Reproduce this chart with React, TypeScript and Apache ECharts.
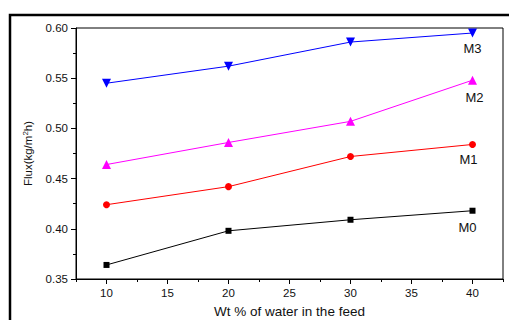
import React, { useEffect, useRef } from "react";
import * as echarts from "echarts";

const xValues = [10, 20, 30, 40];
const m0 = [0.364, 0.398, 0.409, 0.418];
const m1 = [0.424, 0.442, 0.472, 0.484];
const m2 = [0.464, 0.486, 0.507, 0.548];
const m3 = [0.545, 0.562, 0.586, 0.595];
const seriesNames = ["M0", "M1", "M2", "M3"];
const xMajorTicks = [10, 15, 20, 25, 30, 35, 40];
const xMinorTicks = [7.5, 12.5, 17.5, 22.5, 27.5, 32.5, 37.5, 42.5];

const FONT = "Liberation Sans, Arial, sans-serif";

export default function App() {
  const ref = useRef<HTMLDivElement>(null);
  useEffect(() => {
    if (!ref.current) return;
    const chart = echarts.init(ref.current, null, { renderer: "svg" });
    const mk = (
      name: string,
      vals: number[],
      color: string,
      symbol: string,
      size: number,
      labelOffset: [number, number]
    ) => ({
      name,
      type: "line",
      xAxisIndex: 0,
      yAxisIndex: 0,
      symbol,
      symbolSize: size,
      lineStyle: { color, width: 1 },
      itemStyle: { color },
      data: vals.map((v, i) => {
        const d: any = { value: [xValues[i], v] };
        if (i === vals.length - 1) {
          d.label = {
            show: true,
            formatter: name,
            position: "bottom",
            offset: labelOffset,
            color: "#111",
            fontSize: 13,
            fontFamily: FONT,
          };
        }
        return d;
      }),
    });
    chart.setOption({
      animation: false,
      backgroundColor: "#fff",
      textStyle: { fontFamily: FONT },
      grid: {
        left: 76,
        top: 28,
        right: 6,
        bottom: 41,
        show: true,
        borderColor: "#000",
        borderWidth: 1,
        containLabel: false,
        outerBoundsMode: "none",
      },
      graphic: [
        {
          type: "rect",
          shape: { x: 10, y: 15, width: 700, height: 500 },
          style: { fill: "none", stroke: "#000", lineWidth: 2.5 },
          silent: true,
        },
      ],
      xAxis: [
        {
          type: "value",
          min: 7.5,
          max: 42.5,
          position: "bottom",
          splitLine: { show: false },
          axisLine: { show: true, lineStyle: { color: "#000", width: 1 } },
          axisTick: {
            show: true,
            inside: false,
            length: 5,
            customValues: xMajorTicks,
            lineStyle: { color: "#000" },
          },
          axisLabel: {
            customValues: xMajorTicks,
            color: "#111",
            fontSize: 11.5,
            fontFamily: FONT,
            margin: 8,
          },
          name: "Wt % of water in the feed",
          nameLocation: "middle",
          nameGap: 25,
          nameTextStyle: { color: "#111", fontSize: 13.5, fontFamily: FONT },
        },
        {
          type: "value",
          min: 7.5,
          max: 42.5,
          position: "bottom",
          splitLine: { show: false },
          axisLine: { show: false },
          axisTick: {
            show: true,
            inside: false,
            length: 3,
            customValues: xMinorTicks,
            lineStyle: { color: "#000" },
          },
          axisLabel: { show: false },
        },
      ],
      yAxis: {
        type: "value",
        min: 0.35,
        max: 0.6,
        interval: 0.05,
        splitLine: { show: false },
        axisLine: { show: true, lineStyle: { color: "#000", width: 1 } },
        axisTick: { show: true, inside: false, length: 5, lineStyle: { color: "#000" } },
        minorTick: { show: true, splitNumber: 2, length: 3, lineStyle: { color: "#000" } },
        axisLabel: {
          color: "#111",
          fontSize: 11.5,
          fontFamily: FONT,
          margin: 8,
          formatter: (v: number) => v.toFixed(2),
        },
        name: "{a|Flux(kg/m}{s|2}{a|h)}",
        nameLocation: "middle",
        nameGap: 41,
        nameTextStyle: {
          rich: {
            a: { color: "#111", fontSize: 11.5, fontFamily: FONT },
            s: { color: "#111", fontSize: 8, fontFamily: FONT, verticalAlign: "top", padding: [0, 0, 6, 0] },
          },
        },
      },
      series: [
        mk(seriesNames[0], m0, "#000000", "rect", 6, [-5, 2]),
        mk(seriesNames[1], m1, "#ff0000", "circle", 7, [-4, 0]),
        mk(seriesNames[2], m2, "#ff00ff", "triangle", 9, [2, 1]),
        mk(seriesNames[3], m3, "#0000ff", "path://M0,0 L10,0 L5,9 Z", 9, [0, -1]),
      ],
    });
    return () => chart.dispose();
  }, []);
  return (
    <div
      ref={ref}
      style={{ position: "fixed", left: 0, top: 0, width: 509, height: 320 }}
    />
  );
}
